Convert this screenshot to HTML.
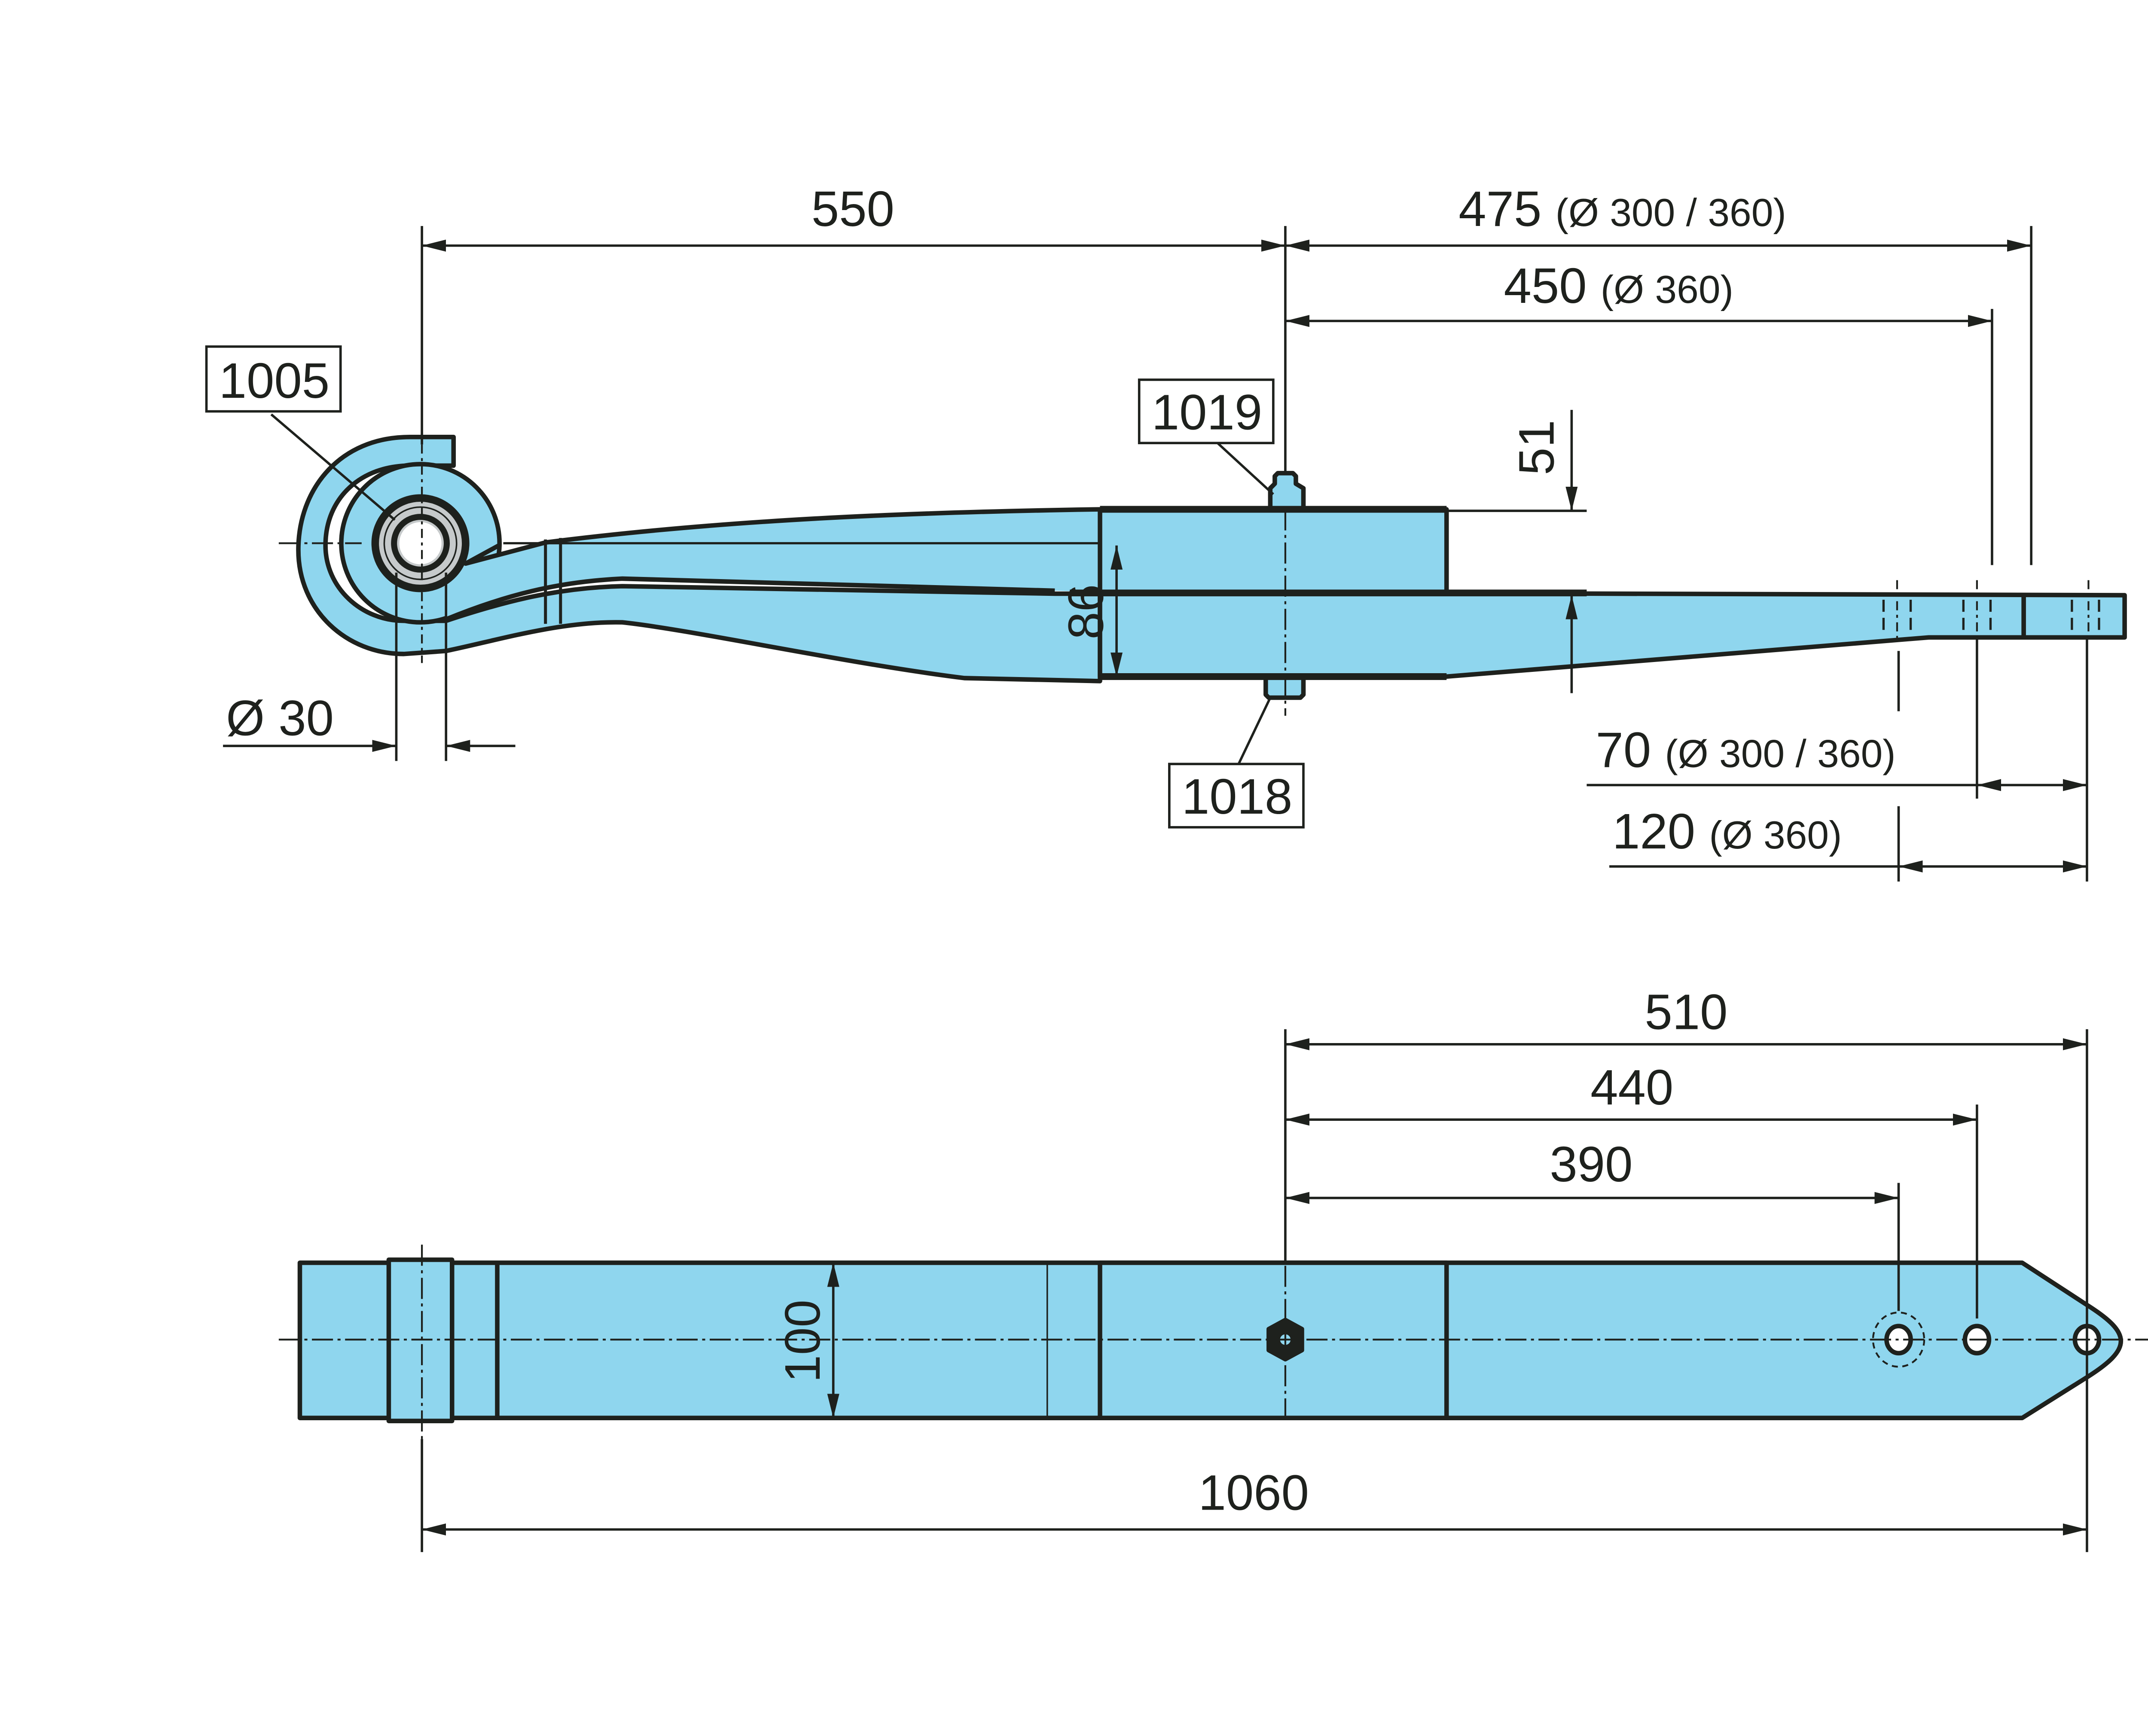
<!DOCTYPE html>
<html><head><meta charset="utf-8"><style>
html,body{margin:0;padding:0;background:#fff;}
svg{display:block;}
text{font-family:"Liberation Sans",sans-serif;fill:#1e211d;}
</style></head><body>
<svg width="5500" height="4041" viewBox="0 0 1553 1141" preserveAspectRatio="none" xmlns="http://www.w3.org/2000/svg">
<defs>
<marker id="a" markerWidth="16" markerHeight="8" refX="16" refY="4" orient="auto" markerUnits="userSpaceOnUse"><path d="M0,0 L16,4 L0,8 z" fill="#1e211d"/></marker>
<marker id="b" markerWidth="16" markerHeight="8" refX="0" refY="4" orient="auto" markerUnits="userSpaceOnUse"><path d="M16,0 L0,4 L16,8 z" fill="#1e211d"/></marker>
</defs>
<g transform="scale(0.9904)">
<g stroke="#1e211d" stroke-width="3" fill="#8fd6ee" stroke-linejoin="round">
<!-- wrap leaf (leaf 2) -->
<path d="M301,290 L272,290 C225,290 198,325 198,365 C198,405 230,434 268,434 L296,432 C330,425 372,412 413,413 C460,418 560,440 640,450 L730,452 L730,394 L700,394 L413,389 C370,390 335,399 296,412 L268,412 C240,412 216,390 216,362 C216,330 240,309 272,309 L301,309 Z"/>
<!-- eye of main leaf -->
<circle cx="279" cy="360.5" r="52.5"/>
</g>
<!-- main leaf body -->
<path d="M331,362 L309,374 L362,360 C480,345 600,340 730,338 L730,393 L700,392 L413,384 C370,386 335,395 296,411 L300,380 Z" fill="#8fd6ee"/>
<path d="M331,362 L309,374 L362,360 C480,345 600,340 730,338 M700,392 L413,384 C370,386 335,395 296,411" fill="none" stroke="#1e211d" stroke-width="3" stroke-linejoin="round"/>
<!-- bushing -->
<circle cx="279" cy="360.5" r="30" fill="#c6cacb" stroke="#1e211d" stroke-width="5"/>
<circle cx="279" cy="360.5" r="24" fill="none" stroke="#1e211d" stroke-width="1"/>
<circle cx="279" cy="360.5" r="17.5" fill="#c6cacb" stroke="#1e211d" stroke-width="4"/>
<circle cx="279" cy="360.5" r="14" fill="#fff"/>
<line x1="334" y1="360.5" x2="820" y2="360.5" stroke="#1e211d" stroke-width="1.5"/>
<g stroke="#1e211d" stroke-width="2" fill="none">
<line x1="362" y1="358" x2="362" y2="414"/>
<line x1="372" y1="357" x2="372" y2="414"/>
</g>
<g stroke="#1e211d" stroke-width="3" fill="#8fd6ee" stroke-linejoin="round">
<rect x="730" y="338" width="230" height="55"/>
<path d="M730,393 L1410,395 L1410,423 L1280,423 L960,449 L730,449 Z"/>
<line x1="1343" y1="395" x2="1343" y2="423"/>
<path d="M843,338 L843,324 L846,321 L846,316 L848,314 L858,314 L860,316 L860,321 L865,324 L865,338"/>
<path d="M840,450 L840,461 L842,463 L863,463 L865,461 L865,450"/>
</g>
<line x1="710" y1="393.5" x2="1053" y2="393.5" stroke="#1e211d" stroke-width="4.5"/>
<line x1="730" y1="338" x2="960" y2="338" stroke="#1e211d" stroke-width="4.5"/>
<line x1="730" y1="449" x2="960" y2="449" stroke="#1e211d" stroke-width="4.5"/>
<g stroke="#1e211d" stroke-width="1.5" stroke-dasharray="8,4">
<line x1="1250" y1="398" x2="1250" y2="422"/><line x1="1268" y1="398" x2="1268" y2="422"/>
<line x1="1303" y1="398" x2="1303" y2="422"/><line x1="1321" y1="398" x2="1321" y2="422"/>
<line x1="1375" y1="398" x2="1375" y2="422"/><line x1="1393" y1="398" x2="1393" y2="422"/>
</g>
<g stroke="#1e211d" stroke-width="1.2" stroke-dasharray="6,3,2,3">
<line x1="1259" y1="385" x2="1259" y2="425"/><line x1="1312" y1="385" x2="1312" y2="425"/><line x1="1386" y1="385" x2="1386" y2="425"/>
<line x1="280" y1="295" x2="280" y2="440"/>
</g>
<!-- bottom view -->
<g stroke="#1e211d" stroke-width="3" fill="#8fd6ee" stroke-linejoin="round">
<path d="M199,838 L1342,838 L1385,866 C1415,885 1415,895 1385,914 L1342,941 L199,941 z"/>
<rect x="258" y="836" width="42" height="107"/>
<line x1="330" y1="838" x2="330" y2="941"/>
<rect x="730" y="838" width="230" height="103"/>
<polygon points="853,876 864,882 864,896 853,902 842,896 842,882" fill="#1e211d"/>
<circle cx="853" cy="889" r="4" fill="#8fd6ee" stroke-width="1"/>
<ellipse cx="1260" cy="889" rx="8" ry="9" fill="#fff"/>
<ellipse cx="1312" cy="889" rx="8" ry="9" fill="#fff"/>
<ellipse cx="1385" cy="889" rx="8" ry="9" fill="#fff"/>
</g>
<line x1="695" y1="838" x2="695" y2="941" stroke="#1e211d" stroke-width="1"/>
<ellipse cx="1260" cy="889" rx="17" ry="18" fill="none" stroke="#1e211d" stroke-width="1.2" stroke-dasharray="4,3"/>
<g stroke="#1e211d" stroke-width="1.2" fill="none" stroke-dasharray="14,3,2,3">
<line x1="185" y1="360.5" x2="240" y2="360.5"/>
<line x1="185" y1="889" x2="1430" y2="889"/>
<line x1="853" y1="338" x2="853" y2="475"/>
<line x1="853" y1="840" x2="853" y2="940"/>
<line x1="280" y1="826" x2="280" y2="955"/>
</g>
<!-- dimension lines -->
<g stroke="#1e211d" stroke-width="1.6" fill="none">
<line x1="280" y1="150" x2="280" y2="295"/>
<line x1="853" y1="150" x2="853" y2="314"/>
<line x1="1348" y1="150" x2="1348" y2="375"/>
<line x1="1322" y1="205" x2="1322" y2="375"/>
<line x1="280" y1="163" x2="853" y2="163" marker-start="url(#b)" marker-end="url(#a)"/>
<line x1="853" y1="163" x2="1348" y2="163" marker-start="url(#b)" marker-end="url(#a)"/>
<line x1="853" y1="213" x2="1322" y2="213" marker-start="url(#b)" marker-end="url(#a)"/>
<line x1="960" y1="339" x2="1053" y2="339"/>
<line x1="1043" y1="272" x2="1043" y2="339" marker-end="url(#a)"/>
<line x1="1043" y1="460" x2="1043" y2="395" marker-end="url(#a)"/>
<line x1="741" y1="362" x2="741" y2="449" marker-start="url(#b)" marker-end="url(#a)"/>
<line x1="263" y1="380" x2="263" y2="505"/>
<line x1="296" y1="380" x2="296" y2="505"/>
<line x1="148" y1="495" x2="263" y2="495" marker-end="url(#a)"/>
<line x1="342" y1="495" x2="296" y2="495" marker-end="url(#a)"/>
<line x1="1260" y1="432" x2="1260" y2="472"/>
<line x1="1260" y1="535" x2="1260" y2="585"/>
<line x1="1312" y1="423" x2="1312" y2="530"/>
<line x1="1385" y1="423" x2="1385" y2="585"/>
<line x1="1053" y1="521" x2="1312" y2="521"/>
<line x1="1312" y1="521" x2="1385" y2="521" marker-start="url(#b)" marker-end="url(#a)"/>
<line x1="1068" y1="575" x2="1260" y2="575"/>
<line x1="1260" y1="575" x2="1385" y2="575" marker-start="url(#b)" marker-end="url(#a)"/>
<line x1="180" y1="275" x2="262" y2="345"/>
<line x1="808" y1="294" x2="845" y2="328"/>
<line x1="822" y1="507" x2="843" y2="463"/>
<line x1="853" y1="683" x2="853" y2="838"/>
<line x1="1385" y1="683" x2="1385" y2="1030"/>
<line x1="1312" y1="733" x2="1312" y2="875"/>
<line x1="1260" y1="785" x2="1260" y2="870"/>
<line x1="280" y1="955" x2="280" y2="1030"/>
<line x1="853" y1="693" x2="1385" y2="693" marker-start="url(#b)" marker-end="url(#a)"/>
<line x1="853" y1="743" x2="1312" y2="743" marker-start="url(#b)" marker-end="url(#a)"/>
<line x1="853" y1="795" x2="1260" y2="795" marker-start="url(#b)" marker-end="url(#a)"/>
<line x1="280" y1="1015" x2="1385" y2="1015" marker-start="url(#b)" marker-end="url(#a)"/>
<line x1="553" y1="838" x2="553" y2="941" marker-start="url(#b)" marker-end="url(#a)"/>
</g>
<g fill="#fff" stroke="#1e211d" stroke-width="1.6">
<rect x="137" y="230" width="89" height="43"/>
<rect x="756" y="252" width="89" height="42"/>
<rect x="776" y="507" width="89" height="42"/>
</g>
<g font-size="33">
<text x="566" y="150" text-anchor="middle">550</text>
<text x="968" y="150">475 <tspan font-size="26">(Ø 300 / 360)</tspan></text>
<text x="998" y="201">450 <tspan font-size="26">(Ø 360)</tspan></text>
<text x="1059" y="509">70 <tspan font-size="26">(Ø 300 / 360)</tspan></text>
<text x="1070" y="563">120 <tspan font-size="26">(Ø 360)</tspan></text>
<text x="150" y="488">Ø 30</text>
<text x="182" y="264" text-anchor="middle">1005</text>
<text x="801" y="285" text-anchor="middle">1019</text>
<text x="821" y="540" text-anchor="middle">1018</text>
<text transform="translate(1031,297) rotate(-90)" text-anchor="middle">51</text>
<text transform="translate(732,406) rotate(-90)" text-anchor="middle">86</text>
<text x="1119" y="683" text-anchor="middle">510</text>
<text x="1083" y="733" text-anchor="middle">440</text>
<text x="1056" y="784" text-anchor="middle">390</text>
<text x="832" y="1002" text-anchor="middle">1060</text>
<text transform="translate(544,890) rotate(-90)" text-anchor="middle">100</text>
</g>
</g>
</svg>
</body></html>
